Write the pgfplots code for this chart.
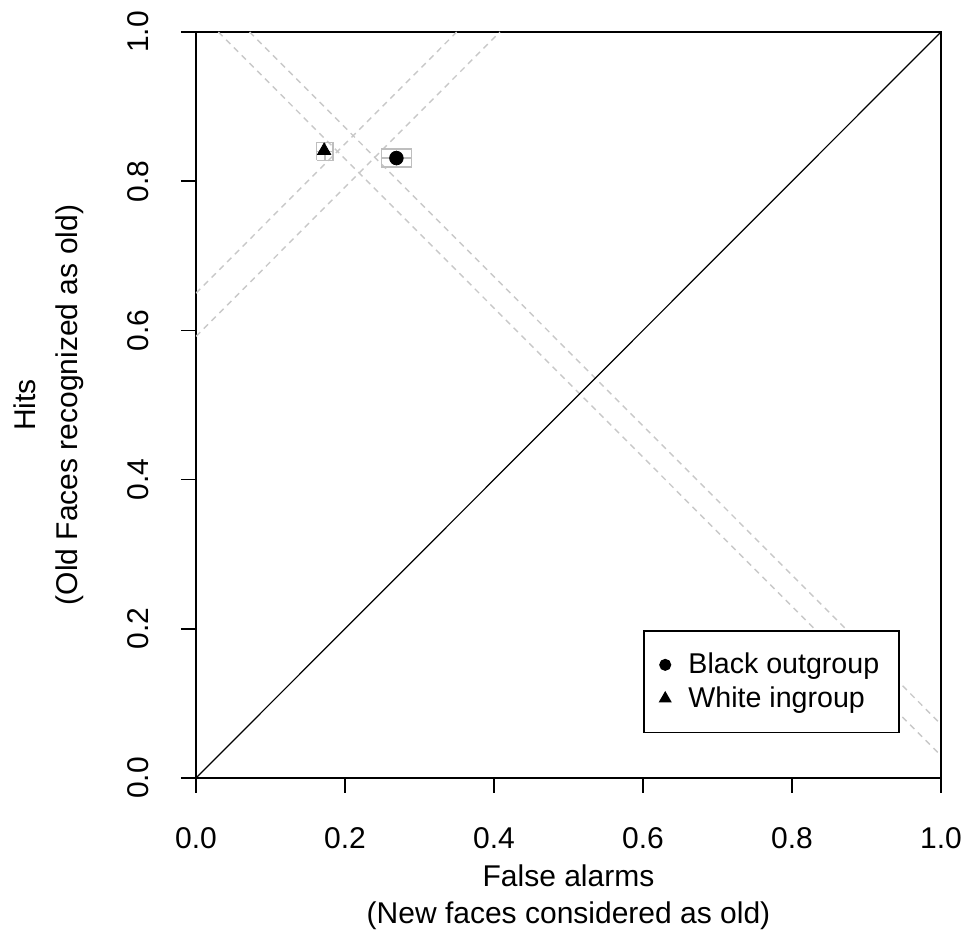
\documentclass[border=0pt]{standalone}
\usepackage{pgfplots}
\pgfplotsset{compat=1.18}
\usepackage{fontspec}
\setmainfont{Liberation Sans}
\definecolor{dashgray}{RGB}{200,200,200}
\definecolor{boxgray}{RGB}{190,190,190}
\begin{document}
\begin{tikzpicture}
\useasboundingbox (-98pt,-76.5pt) rectangle (385pt,389pt);
\begin{axis}[
  at={(0pt,0pt)}, anchor=south west,
  width=372.5pt, height=373pt, scale only axis,
  xmin=0, xmax=1, ymin=0, ymax=1,
  xtick={0,0.2,0.4,0.6,0.8,1}, ytick={0,0.2,0.4,0.6,0.8,1},
  xtick pos=bottom, ytick pos=left,
  /pgf/number format/assume math mode=true,
  /pgf/number format/.cd, fixed, fixed zerofill, precision=1, /pgfplots/.cd,
  tick align=outside, major tick length=7.5pt,
  tick style={black, line width=0.8pt},
  axis line style={black, line width=0.8pt},
  tick label style={font=\fontsize{15}{18}\selectfont},
  xticklabel style={anchor=north, yshift=-13.5pt},
  yticklabel style={rotate=90, anchor=south, yshift=12.5pt},
  xlabel={False alarms\\(New faces considered as old)},
  xlabel style={font=\fontsize{15}{18.5}\selectfont, align=center, at={(axis description cs:0.5,0)}, anchor=center, yshift=-59.5pt},
  ylabel={Hits\\(Old Faces recognized as old)},
  ylabel style={font=\fontsize{15}{21}\selectfont, align=center, at={(axis description cs:0,0.5)}, anchor=center, yshift=73.5pt},
  legend style={at={(axis cs:0.945,0.06)}, anchor=south east, draw=black, line width=0.8pt,
    font=\fontsize{14.3}{17}\selectfont, inner xsep=8pt, inner ysep=9pt, row sep=1pt, column sep=7pt},
  legend cell align=left,
  clip=true,
]
% dashed reference lines
\addplot[dashgray, dashed, line width=0.7pt, dash pattern=on 3pt off 2.5pt, forget plot] coordinates {(0,0.65) (0.35,1)};
\addplot[dashgray, dashed, line width=0.7pt, dash pattern=on 3pt off 2.5pt, forget plot] coordinates {(0,0.592) (0.408,1)};
\addplot[dashgray, dashed, line width=0.7pt, dash pattern=on 3pt off 2.5pt, forget plot] coordinates {(0.03,1) (1,0.03)};
\addplot[dashgray, dashed, line width=0.7pt, dash pattern=on 3pt off 2.5pt, forget plot] coordinates {(0.072,1) (1,0.072)};
% diagonal
\addplot[black, line width=0.6pt, forget plot] coordinates {(0,0) (1,1)};
% markers
\addplot[only marks, mark=*, mark size=3.4pt, black, forget plot] coordinates {(0.269,0.831)};
\addplot[only marks, mark=triangle*, mark size=3.8pt, black, forget plot] coordinates {(0.172,0.841)};
% error boxes: black outgroup
\addplot[boxgray, line width=0.7pt, forget plot] coordinates {(0.249,0.819) (0.289,0.819) (0.289,0.843) (0.249,0.843) (0.249,0.819)};
\addplot[boxgray, line width=0.7pt, forget plot] coordinates {(0.249,0.831) (0.289,0.831)};
\addplot[boxgray, line width=0.7pt, forget plot] coordinates {(0.269,0.819) (0.269,0.843)};
% error boxes: white ingroup
\addplot[boxgray, line width=0.7pt, forget plot] coordinates {(0.162,0.828) (0.184,0.828) (0.184,0.852) (0.162,0.852) (0.162,0.828)};
\addplot[boxgray, line width=0.7pt, forget plot] coordinates {(0.162,0.840) (0.184,0.840)};
\addplot[boxgray, line width=0.7pt, forget plot] coordinates {(0.173,0.828) (0.173,0.852)};
% legend
\addlegendimage{only marks, mark=*, mark size=2.6pt, black}
\addlegendentry{Black outgroup}
\addlegendimage{only marks, mark=triangle*, mark size=3pt, black}
\addlegendentry{White ingroup}
\end{axis}
\end{tikzpicture}
\end{document}
